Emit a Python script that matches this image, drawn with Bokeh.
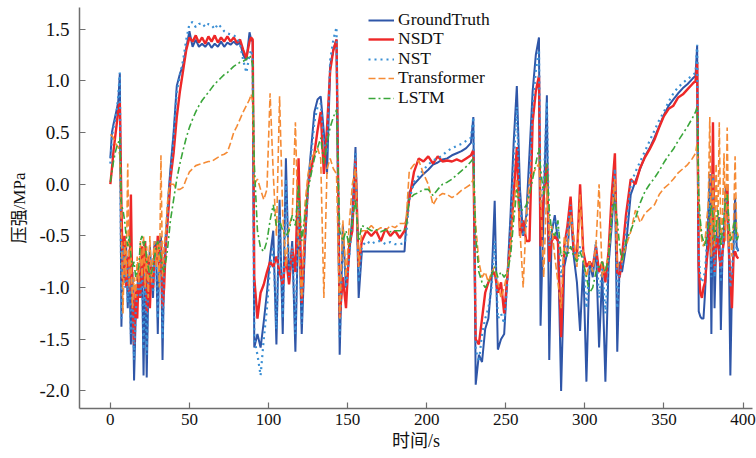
from bokeh.plotting import figure
from bokeh.models import FixedTicker, NumeralTickFormatter, Range1d, Legend, LegendItem
from bokeh.embed import file_html
from bokeh.resources import INLINE

# time axis (s)
t = [0, 1, 2, 3, 4, 5, 6, 7, 8, 9, 10, 11, 12, 13, 14, 15, 16, 17, 18, 19, 20,
     21, 22, 23, 24, 25, 26, 27, 28, 29, 30, 31, 32, 33, 34, 35, 36, 37, 38,
     40, 42, 44, 46, 48, 50, 52, 54, 56, 58, 60, 62, 64, 66, 68, 70, 72, 74, 76, 78,
     80, 82, 84, 86, 88, 89, 90,
     91, 93, 95, 97, 99, 101, 103, 105, 107, 109, 111, 113, 115, 117, 119, 121, 123,
     125, 127, 129, 131, 133, 135, 137, 139, 141, 143, 145, 147, 149, 151, 153, 155, 157, 159,
     162, 165, 168, 171, 174, 177, 180, 183, 186, 187, 189, 192, 195, 198, 201, 204,
     207, 210, 213, 216, 219, 222, 225, 228, 229.5,
     231, 233, 235, 237, 239, 241, 243, 245, 247, 249, 251, 253, 255, 257, 259, 261,
     263, 265, 267, 269, 271, 272, 274, 276, 277.5, 279, 281, 283, 285, 287, 289, 291,
     293, 295, 297, 299, 301, 303, 305, 307, 309, 311, 313, 315, 317, 319, 320.5, 322, 323.5,
     326, 329, 332, 335, 338, 341, 344, 347, 350, 353, 356, 359, 362, 365, 368, 370, 371,
     372, 373, 374, 375, 376, 377, 378, 379, 380, 381, 382, 383, 384, 385, 386, 387,
     388, 389, 390, 391, 392, 393, 394, 395, 396, 397]

ground_truth = [
    0.25, 0.50, 0.58, 0.65, 0.72, 0.80, 1.07, -1.38, -0.55, -0.95, -0.60, -1.20, -0.75,
    -1.55, -0.85, -1.90, -1.30, -1.00, -0.85, -1.10, -0.75, -1.85, -0.80, -1.87, -1.00,
    -0.60, -0.90, -1.10, -0.55, -0.70, -1.45, -0.60, -0.50, -1.70, -0.80, -0.50, -0.30, -0.05, 0.15,
    0.50, 0.95, 1.07, 1.15, 1.32, 1.48, 1.33, 1.40, 1.33, 1.36, 1.33, 1.37, 1.32, 1.36,
    1.33, 1.38, 1.33, 1.37, 1.35, 1.38, 1.35, 1.37, 1.25, 1.20, 1.47, 1.40, 1.38,
    -1.58, -1.45, -1.58, -1.33, -1.05, -0.70, -0.45, -1.55, -0.15, -1.45, 0.25, -0.95,
    -0.55, -1.62, -0.20, -1.45, -0.60, 0.00, 0.35, 0.70, 0.82, 0.85, 0.50, 0.10, 1.15,
    1.30, 1.40, -1.65, -0.40, -1.00, -0.70, -0.30, 0.36, -1.10, -0.65,
    -0.65, -0.65, -0.65, -0.65, -0.65, -0.65, -0.65, -0.65, -0.65, -0.40, -0.08, 0.00,
    0.05, 0.10, 0.14, 0.19, 0.21, 0.24, 0.25, 0.28, 0.30, 0.32, 0.35, 0.40, 0.65,
    -1.94, -1.65, -1.72, -1.40, -1.30, -0.95, -0.16, -1.60, -1.50, -1.45, -0.90, -0.30,
    0.40, 0.95, -0.05, -0.50, -0.30, 0.30, 0.90, 1.25, 1.42, -1.37, -0.20, 0.86, -1.70,
    -0.47, -0.30, -0.55, -2.00, -0.80, -0.65, -0.23, -0.70, -0.95, -1.42, -0.75, -1.91,
    -0.75, -0.90, -0.60, -1.58, -0.85, -1.91, -0.78, -0.40, 0.10, -1.62, -0.75, -0.85,
    -0.60, -0.10, 0.03, 0.15, 0.27, 0.35, 0.45, 0.56, 0.67, 0.76, 0.82, 0.88, 0.93,
    0.97, 1.02, 1.05, 1.34,
    -1.23, -1.28, -1.30, -1.30, -1.05, -0.70, -0.30, 0.10, -1.45, -0.05, -1.20, -0.60,
    -0.35, -0.32, -1.41, -0.70, -0.40, -0.05, 0.00, -0.60, -1.85, -1.00, -0.60, -0.13, -0.60, -0.65]

nsdt = [
    0.00, 0.15, 0.32, 0.45, 0.58, 0.72, 0.80, -0.20, -0.95, -0.50, -1.00, -0.70, -1.05,
    -0.10, -1.20, -1.55, -1.00, -1.30, -0.80, -1.10, -0.60, -1.00, -0.55, -1.25, -0.70,
    -1.20, -0.80, -1.00, -0.60, -0.75, -0.50, -0.85, -0.55, -1.20, -1.00, -0.60, -0.40, -0.20, 0.05,
    0.30, 0.65, 0.90, 1.10, 1.30, 1.42, 1.38, 1.44, 1.37, 1.42, 1.36, 1.43, 1.38, 1.44,
    1.37, 1.42, 1.38, 1.43, 1.38, 1.42, 1.37, 1.40, 1.30, 1.22, 1.38, 1.42, 1.40,
    -0.90, -1.30, -1.05, -0.97, -0.85, -0.75, -0.80, -0.70, -0.85, -0.97, -0.70, -0.97,
    -0.62, -0.85, 0.25, -1.15, -0.50, 0.00, 0.15, 0.30, 0.52, 0.70, 0.10, 0.55, 1.10,
    1.30, 1.40, -1.30, -0.90, -1.20, -0.60, -0.45, 0.25, -0.80, -0.55,
    -0.45, -0.50, -0.45, -0.55, -0.43, -0.50, -0.45, -0.52, -0.45, -0.38, -0.14, 0.12,
    0.25, 0.22, 0.27, 0.20, 0.27, 0.22, 0.23, 0.22, 0.24, 0.22, 0.25, 0.28, 0.33,
    -1.50, -1.55, -1.30, -1.05, -0.95, -0.88, -0.85, -1.05, -0.95, -1.25, -0.90, -0.55,
    -0.10, 0.36, -0.50, -0.35, -0.55, -0.55, 0.60, 0.90, 1.05, -0.60, -0.10, 0.20, -0.75,
    -0.55, -0.50, -0.55, -1.48, -0.60, -0.40, -0.12, -0.65, -0.70, 0.00, -0.65, -0.80,
    -0.75, -0.80, -0.60, -0.85, -0.75, -0.95, -0.65, -0.10, 0.30, -0.85, -0.90, -0.70,
    -0.30, 0.05, 0.00, 0.16, 0.26, 0.34, 0.43, 0.55, 0.66, 0.73, 0.76, 0.84, 0.87,
    0.92, 0.97, 1.00, 1.18,
    -0.80, -1.05, -1.10, -1.00, -0.95, -0.75, -0.60, -0.32, -0.70, 0.60, -0.85, -0.60,
    -0.50, -0.70, -0.80, -0.65, -0.55, -0.30, 0.00, -0.60, -0.90, -1.20, -0.70, -0.65, -0.70, -0.72]

nst = [
    0.20, 0.45, 0.55, 0.62, 0.70, 0.85, 1.08, -1.30, -0.60, -1.00, -0.65, -1.15, -0.80,
    -1.45, -0.90, -1.70, -1.25, -1.05, -0.90, -1.10, -0.80, -1.60, -0.85, -1.65, -0.95,
    -0.70, -0.90, -1.05, -0.60, -0.75, -1.30, -0.65, -0.55, -1.50, -0.85, -0.55, -0.35, -0.10, 0.10,
    0.45, 0.90, 1.05, 1.20, 1.40, 1.55, 1.57, 1.52, 1.55, 1.56, 1.52, 1.55, 1.54, 1.50,
    1.55, 1.52, 1.48, 1.46, 1.45, 1.44, 1.42, 1.35, 1.20, 1.08, 1.25, 1.30, 1.20,
    -1.50, -1.65, -1.85, -1.50, -1.20, -0.80, -0.60, -1.40, -0.30, -1.30, 0.05, -0.90,
    -0.60, -1.45, -0.15, -1.35, -0.55, -0.05, 0.30, 0.60, 0.75, 0.78, 0.40, 0.30, 1.20,
    1.40, 1.52, -1.50, -0.50, -1.00, -0.70, -0.35, 0.30, -0.95, -0.60,
    -0.55, -0.58, -0.55, -0.55, -0.58, -0.56, -0.58, -0.58, -0.57, -0.50, -0.15, 0.02,
    0.08, 0.14, 0.19, 0.23, 0.25, 0.28, 0.32, 0.35, 0.37, 0.39, 0.42, 0.45, 0.65,
    -1.60, -1.72, -1.45, -1.30, -1.20, -1.00, -0.55, -1.30, -1.25, -1.35, -0.95, -0.40,
    0.20, 0.75, -0.20, -0.50, -0.40, 0.00, 0.75, 1.10, 1.30, -0.20, 0.00, 0.80, -0.60,
    -0.45, -0.35, -0.40, -0.90, -0.70, -0.45, -0.20, -0.60, -0.75, -0.60, -0.70, -1.20,
    -0.80, -0.85, -0.55, -1.10, -0.80, -1.25, -0.75, -0.30, 0.15, -1.20, -0.85, -0.80,
    -0.45, 0.00, 0.12, 0.22, 0.32, 0.42, 0.52, 0.62, 0.70, 0.80, 0.88, 0.94, 0.98,
    1.02, 1.05, 1.08, 1.35,
    -0.70, -0.90, -0.95, -0.90, -0.85, -0.60, -0.35, -0.05, -0.90, 0.10, -0.90, -0.55,
    -0.40, -0.50, -0.95, -0.70, -0.45, -0.20, -0.10, -0.55, -1.00, -0.85, -0.60, -0.45, -0.65, -0.60]

transformer = [
    0.48, 0.47, 0.45, 0.40, 0.38, 0.36, 0.28, -0.45, -1.25, -0.55, -0.90, 0.20, -1.00,
    -0.60, -1.20, -0.90, -1.10, -0.70, -0.95, -0.55, -0.90, -0.50, -1.00, -0.60, -1.10,
    -0.50, -0.95, -0.70, -0.55, -0.80, -0.55, -1.00, 0.28, -0.90, -0.60, -0.45, -0.20, -0.05, 0.00,
    0.00, -0.05, -0.05, -0.03, 0.05, 0.12, 0.15, 0.18, 0.19, 0.20, 0.21, 0.22, 0.22, 0.24,
    0.26, 0.28, 0.29, 0.31, 0.40, 0.50, 0.56, 0.63, 0.70, 0.76, 0.82, 0.87, 0.80,
    0.00, 0.05, -0.05, -0.15, -0.05, 0.88, 0.10, -0.50, 0.85, -0.30, -0.80, -0.40,
    -0.30, 0.60, -0.60, -1.10, -0.20, 0.10, 0.25, 0.30, 0.35, 0.25, -1.10, 0.15, 0.25,
    0.15, 0.10, -1.30, -0.35, -0.90, -0.40, 0.00, 0.15, -0.80, -0.45,
    -0.45, -0.40, -0.45, -0.42, -0.45, -0.40, -0.42, -0.38, -0.38, -0.35, 0.13, 0.19,
    0.23, 0.10, 0.00, -0.20, -0.12, -0.09, -0.10, -0.13, -0.10, -0.06, -0.03, 0.00, 0.05,
    -0.40, -0.75, -0.90, -0.85, -0.95, -0.85, -0.80, -0.95, -1.10, -1.00, -0.85, -0.60,
    -0.20, 0.05, -0.45, -1.00, -0.30, 0.05, 0.10, 0.15, 0.20, -0.10, -0.90, 0.00, -0.50,
    -0.40, -0.70, -0.95, -1.20, -0.50, -0.65, -0.30, -0.50, -0.80, -0.10, -0.70, -0.90,
    -0.75, -0.85, -0.60, 0.00, -0.90, -0.80, -0.70, -0.30, 0.05, -0.80, -0.75, -0.75,
    -0.60, -0.46, -0.25, -0.37, -0.28, -0.24, -0.20, -0.10, -0.04, 0.00, 0.05, 0.11, 0.15,
    0.19, 0.25, 0.30, 0.40,
    -0.20, -0.40, -0.55, -0.60, -0.55, -0.35, -0.20, 0.65, -0.70, 0.10, -0.60, 0.20,
    -0.50, 0.60, -0.60, -0.30, 0.30, -0.55, 0.55, -0.60, -0.45, -0.70, -0.40, 0.27, -0.45, -0.50]

lstm = [
    0.02, 0.12, 0.22, 0.30, 0.36, 0.40, 0.45, -0.20, -0.25, -0.35, -0.50, -0.60, -0.50,
    -0.70, -0.80, -0.75, -0.90, -0.85, -0.80, -0.55, -0.50, -0.60, -0.55, -0.75, -0.80,
    -0.90, -0.85, -0.80, -0.70, -0.60, -0.55, -0.65, -0.70, -0.80, -0.85, -0.75, -0.65, -0.50, -0.35,
    -0.15, 0.05, 0.20, 0.33, 0.45, 0.55, 0.63, 0.70, 0.76, 0.81, 0.85, 0.89, 0.93, 0.97,
    1.00, 1.03, 1.06, 1.08, 1.11, 1.14, 1.16, 1.18, 1.19, 1.21, 1.25, 1.22, 1.15,
    0.20, -0.45, -0.62, -0.65, -0.55, -0.35, -0.20, -0.40, -0.35, -0.45, -0.50, -0.45,
    -0.30, -0.40, 0.00, -0.55, -0.30, -0.05, 0.10, 0.25, 0.35, 0.45, 0.20, 0.40, 0.55,
    0.65, 0.72, -0.45, -0.55, -0.45, -0.60, -0.35, -0.15, -0.55, -0.40,
    -0.42, -0.45, -0.44, -0.46, -0.44, -0.46, -0.45, -0.45, -0.44, -0.42, -0.14, -0.10,
    -0.08, -0.05, -0.05, -0.11, -0.05, 0.00, 0.02, 0.05, 0.09, 0.13, 0.17, 0.22, 0.25,
    -0.50, -0.85, -0.95, -1.00, -0.95, -0.88, -0.80, -0.90, -0.85, -0.90, -0.85, -0.70,
    -0.35, -0.05, -0.25, -0.25, -0.20, -0.10, 0.05, 0.20, 0.35, 0.15, -0.10, 0.20, -0.25,
    -0.45, -0.50, -0.35, -0.70, -0.65, -0.70, -0.60, -0.70, -0.75, -0.65, -0.75, -0.90,
    -1.05, -1.00, -0.85, -0.80, -0.75, -0.85, -0.70, -0.30, -0.15, -0.35, -0.60, -0.75,
    -0.55, -0.45, -0.33, -0.18, -0.07, 0.00, 0.06, 0.13, 0.21, 0.28, 0.34, 0.42, 0.49,
    0.56, 0.64, 0.70, 0.75,
    -0.10, -0.35, -0.50, -0.55, -0.60, -0.50, -0.45, -0.30, -0.20, -0.30, -0.55, -0.40,
    -0.25, -0.35, -0.60, -0.45, -0.30, -0.15, -0.10, -0.35, -0.55, -0.50, -0.40, -0.35, -0.55, -0.50]

series_names = ["GroundTruth", "NSDT", "NST", "Transformer", "LSTM"]
x_ticks = [0, 50, 100, 150, 200, 250, 300, 350, 400]
y_ticks = [-2.0, -1.5, -1.0, -0.5, 0.0, 0.5, 1.0, 1.5]

SERIF = "'Liberation Serif', 'Times New Roman', serif"
CJK = "'Liberation Serif', 'Noto Sans CJK SC', serif"

p = figure(width=756, height=458, output_backend="svg", toolbar_location=None,
           x_range=Range1d(-19.5, 406), y_range=Range1d(-2.17, 1.71),
           min_border_left=79, min_border_right=4, min_border_top=7, min_border_bottom=50)

r_gt = p.line(t, ground_truth, line_color="#2f56a8", line_width=2.0)
r_nsdt = p.line(t, nsdt, line_color="#ee2828", line_width=2.4)
r_nst = p.line(t, nst, line_color="#3b8fd4", line_width=2.2, line_dash="2 4")
r_tf = p.line(t, transformer, line_color="#f58b35", line_width=1.6, line_dash="7 3")
r_lstm = p.line(t, lstm, line_color="#3aa63a", line_width=1.6, line_dash="7 3 2 3")

p.outline_line_color = None
p.xgrid.visible = False
p.ygrid.visible = False
p.background_fill_color = "white"
p.border_fill_color = "white"

for ax in (p.xaxis[0], p.yaxis[0]):
    ax.axis_line_color = "#6e6e6e"
    ax.axis_line_width = 1.5
    ax.major_tick_line_color = "#6e6e6e"
    ax.major_tick_line_width = 1.2
    ax.major_tick_in = 6
    ax.major_tick_out = 0
    ax.minor_tick_line_color = None
    ax.major_label_text_font = SERIF
    ax.major_label_text_color = "#111111"
    ax.axis_label_text_font = CJK
    ax.axis_label_text_font_style = "normal"
    ax.axis_label_text_color = "#111111"

p.xaxis.ticker = FixedTicker(ticks=x_ticks)
p.yaxis.ticker = FixedTicker(ticks=y_ticks)
p.yaxis.formatter = NumeralTickFormatter(format="0.0")
p.xaxis.major_label_text_font_size = "17px"
p.yaxis.major_label_text_font_size = "19px"
p.xaxis.major_label_standoff = 5
p.yaxis.major_label_standoff = 10
p.xaxis.axis_label = "时间/s"
p.yaxis.axis_label = "压强/MPa"
p.xaxis.axis_label_text_font_size = "18px"
p.yaxis.axis_label_text_font_size = "17px"
p.xaxis.axis_label_standoff = 3
p.yaxis.axis_label_standoff = 7

# one single-row legend per series, stacked like the reference
renderers = [r_gt, r_nsdt, r_nst, r_tf, r_lstm]
legend_y = [378, 359, 339, 320, 300]
for name, rend, ly in zip(series_names, renderers, legend_y):
    lg = Legend(items=[LegendItem(label=name, renderers=[rend])], location=(289, ly))
    lg.background_fill_alpha = 0
    lg.border_line_color = None
    lg.padding = 0
    lg.margin = 0
    lg.spacing = 0
    lg.glyph_width = 26
    lg.glyph_height = 18
    lg.label_height = 18
    lg.label_standoff = 4
    lg.label_text_font = SERIF
    lg.label_text_font_size = "17.5px"
    lg.label_text_color = "#111111"
    p.add_layout(lg)

open("out.html", "w").write(file_html(p, INLINE))
